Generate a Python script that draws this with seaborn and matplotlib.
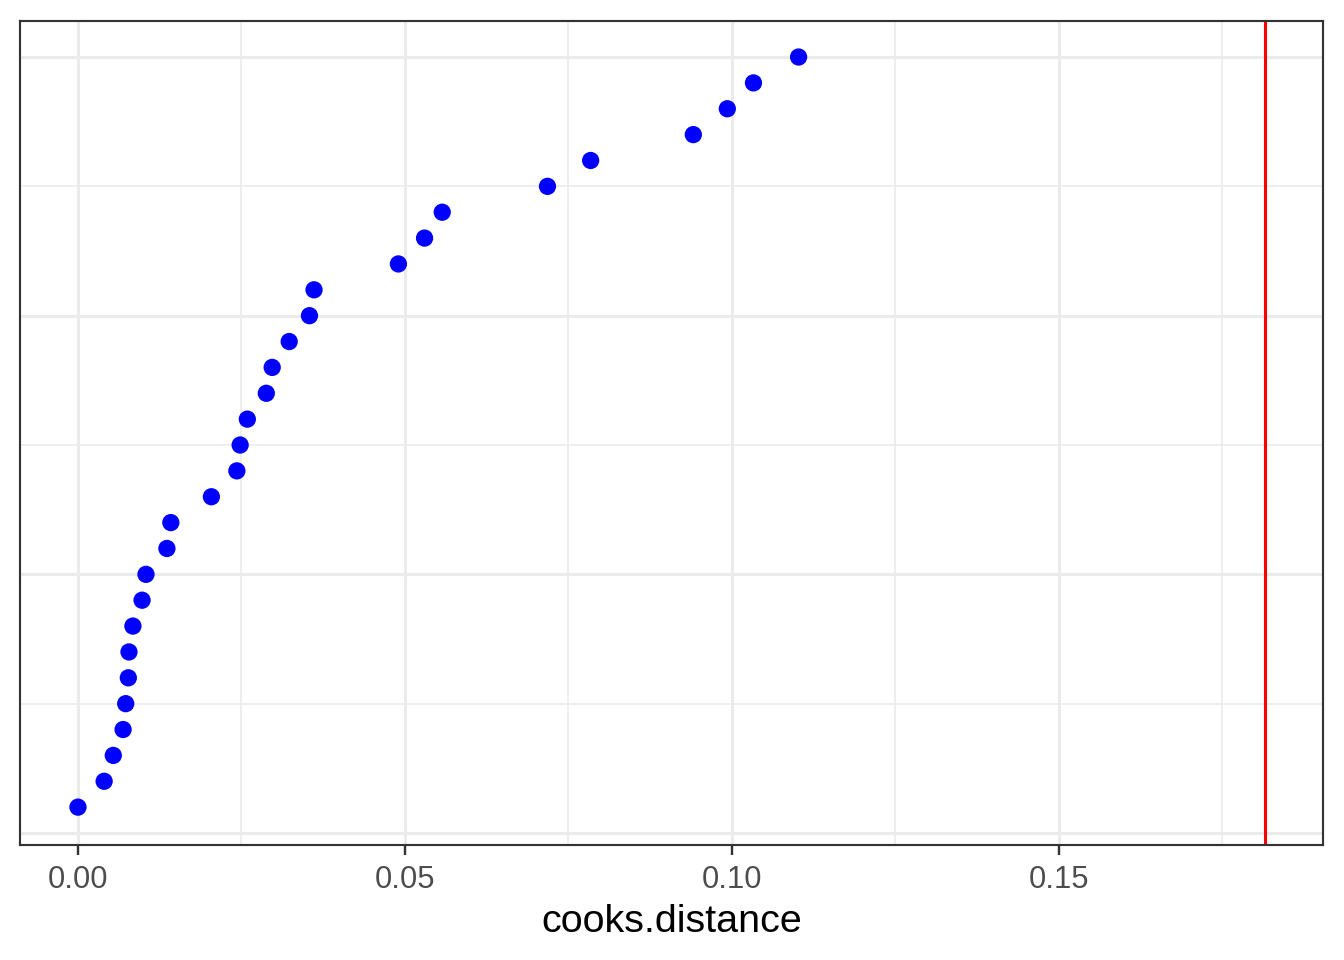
import numpy as np
import pandas as pd
import matplotlib
matplotlib.use("Agg")
import matplotlib.pyplot as plt
from matplotlib.ticker import MultipleLocator
import seaborn as sns

cooks_distance = [0.0000, 0.0040, 0.0054, 0.0069, 0.0073, 0.0077, 0.0078, 0.0084,
                  0.0098, 0.0104, 0.0136, 0.0142, 0.0204, 0.0243, 0.0248, 0.0259,
                  0.0288, 0.0297, 0.0323, 0.0354, 0.0361, 0.0490, 0.0530, 0.0557,
                  0.0718, 0.0784, 0.0941, 0.0993, 0.1033, 0.1102]
rank = list(range(1, len(cooks_distance) + 1))
threshold = 0.1816  # cutoff line

df = pd.DataFrame({"cooks.distance": cooks_distance, "rank": rank})

sns.set_style("white")
plt.rcParams['font.family'] = ['Liberation Sans', 'DejaVu Sans']

fig = plt.figure(figsize=(7, 5), dpi=192)
ax = fig.add_axes([0.01525, 0.1203, 0.9844 - 0.01525, 0.9786 - 0.1203])

# grid first so points sit on top
ax.set_axisbelow(True)
ax.xaxis.set_major_locator(MultipleLocator(0.05))
ax.xaxis.set_minor_locator(MultipleLocator(0.025))
ax.yaxis.set_major_locator(MultipleLocator(10))
ax.yaxis.set_minor_locator(MultipleLocator(5))
ax.grid(which="major", color="#EBEBEB", linewidth=1.15)
ax.grid(which="minor", color="#EBEBEB", linewidth=0.6)

ax.axvline(threshold, color="red", linewidth=1.15, zorder=2)
sns.scatterplot(data=df, x="cooks.distance", y="rank", ax=ax, color="blue",
                s=42, edgecolor="none", linewidth=0, zorder=3)

ax.set_xlim(-0.00879, 0.1904)
ax.set_ylim(-0.445, 31.41)

ax.set_yticklabels([])
ax.tick_params(axis="y", which="both", length=0, left=False)
ax.tick_params(axis="x", which="major", bottom=True, length=3.6, width=0.9,
               color="#333333", labelsize=11.6, labelcolor="#4D4D4D", pad=4)
ax.tick_params(axis="x", which="minor", bottom=False, length=0)
ax.xaxis.set_major_formatter(plt.FuncFormatter(lambda v, p: f"{v:.2f}"))

ax.set_xlabel("cooks.distance", fontsize=14.8, color="black", labelpad=3.5)
ax.set_ylabel("")

for sp in ax.spines.values():
    sp.set_color("#333333")
    sp.set_linewidth(0.8)

fig.savefig("out.png", dpi=192)
